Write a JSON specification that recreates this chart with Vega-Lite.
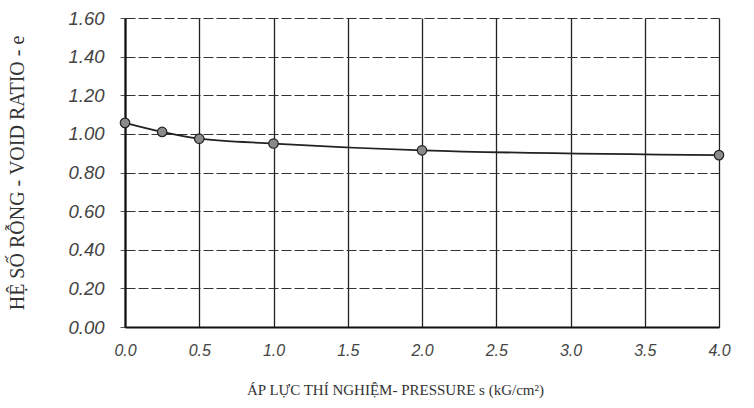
{
  "$schema": "https://vega.github.io/schema/vega-lite/v6.json",
  "width": 594,
  "height": 309,
  "autosize": {"type": "none"},
  "padding": {"left": 125, "top": 18, "right": 35, "bottom": 81},
  "background": "white",
  "config": {
    "view": {"stroke": null},
    "axis": {"labelColor": "#333", "titleColor": "#333"}
  },
  "data": {
    "values": [
      {"pressure": 0.0, "e": 1.057},
      {"pressure": 0.25, "e": 1.01},
      {"pressure": 0.5, "e": 0.975},
      {"pressure": 1.0, "e": 0.95},
      {"pressure": 2.0, "e": 0.915},
      {"pressure": 4.0, "e": 0.89}
    ]
  },
  "encoding": {
    "x": {
      "field": "pressure", "type": "quantitative",
      "scale": {"domain": [0, 4], "nice": false},
      "axis": {
        "values": [0, 0.5, 1, 1.5, 2, 2.5, 3, 3.5, 4],
        "tickCount": 20,
        "format": ".1f",
        "ticks": false,
        "labelFlush": false,
        "labelOverlap": false,
        "labelPadding": 15,
        "labelFont": "Liberation Sans",
        "labelFontStyle": "italic",
        "labelFontSize": 16,
        "labelColor": "#444",
        "domainColor": "#111",
        "domainWidth": 2,
        "grid": true,
        "gridColor": "#222",
        "gridWidth": 1.3,
        "gridOpacity": 1,
        "title": "ÁP LỰC THÍ NGHIỆM- PRESSURE s (kG/cm²)",
        "titleFont": "Liberation Serif",
        "titleFontWeight": "normal",
        "titleFontSize": 15,
        "titlePadding": 24,
        "titleX": 270,
        "titleAnchor": "middle"
      }
    },
    "y": {
      "field": "e", "type": "quantitative",
      "scale": {"domain": [0, 1.6], "nice": false},
      "axis": {
        "values": [0, 0.2, 0.4, 0.6, 0.8, 1.0, 1.2, 1.4, 1.6],
        "tickCount": 20,
        "format": ".2f",
        "tickSize": 5,
        "tickColor": "#555",
        "labelOverlap": false,
        "labelFlush": false,
        "labelPadding": 16,
        "labelFont": "Liberation Sans",
        "labelFontStyle": "italic",
        "labelFontSize": 18.5,
        "labelColor": "#444",
        "domainColor": "#111",
        "domainWidth": 2.2,
        "grid": true,
        "gridColor": "#333",
        "gridWidth": 1.1,
        "gridDash": [10, 3],
        "gridOpacity": 1,
        "title": "HỆ SỐ RỖNG - VOID RATIO  - e",
        "titleFont": "Liberation Serif",
        "titleFontWeight": "normal",
        "titleFontSize": 20,
        "titlePadding": 40
      }
    }
  },
  "layer": [
    {
      "mark": {"type": "line", "interpolate": "monotone", "color": "#222", "strokeWidth": 1.8}
    },
    {
      "mark": {"type": "point", "filled": true, "fill": "#8a8a8a", "stroke": "#222", "strokeWidth": 1.2, "size": 90, "opacity": 1}
    }
  ]
}
